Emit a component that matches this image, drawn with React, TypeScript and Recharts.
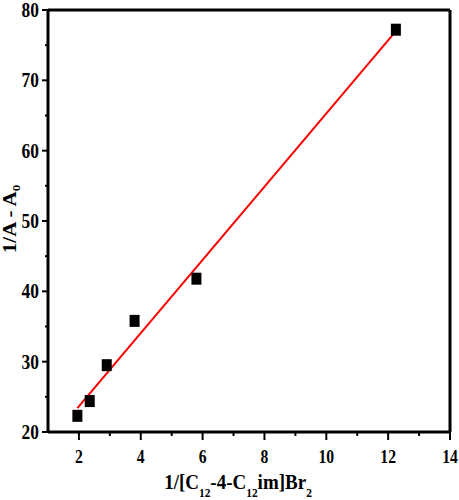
import { ComposedChart, XAxis, YAxis, Scatter, Line, ReferenceLine, Label } from "recharts";

// measured points: 1/[C12-4-C12im]Br2 vs 1/(A - A0)
const concInv: number[] = [1.95, 2.35, 2.9, 3.8, 5.8, 12.25];
const absInv: number[] = [22.3, 24.4, 29.5, 35.8, 41.8, 77.2];

// linear fit ends
const fitX: number[] = [1.95, 12.25];
const fitY: number[] = [23.4, 77.0];

const xTicks: number[] = [1, 2, 3, 4, 5, 6, 7, 8, 9, 10, 11, 12, 13, 14];
const yTicks: number[] = [20, 25, 30, 35, 40, 45, 50, 55, 60, 65, 70, 75, 80];

const points = concInv.map((x, i) => ({ x, y: absInv[i] }));
const fitData = fitX.map((x, i) => ({ x, y: fitY[i] }));

const FONT = '"Liberation Serif", "Times New Roman", serif';

const YTick = (props: any) => {
    const { x, y, payload } = props;
    const v = payload.value;
    const major = v % 10 === 0;
    return (
        <g>
            <line x1={x} x2={x - (major ? 6 : 3)} y1={y} y2={y} stroke="#000" strokeWidth={2} />
            {major && (
                <text
                    transform={`translate(${x - 9},${y}) scale(0.87,1)`}
                    textAnchor="end"
                    dy="0.35em"
                    fontFamily={FONT}
                    fontWeight="bold"
                    fontSize={20}
                    fill="#000"
                >
                    {v}
                </text>
            )}
        </g>
    );
};

const XTick = (props: any) => {
    const { x, y, payload } = props;
    const v = payload.value;
    const major = v % 2 === 0;
    if (v === 1) return <g />;
    return (
        <g>
            <line x1={x} x2={x} y1={y} y2={y + (major ? 8 : 4)} stroke="#000" strokeWidth={2} />
            {major && (
                <text
                    transform={`translate(${x},${y + 31}) scale(0.87,1)`}
                    textAnchor="middle"
                    fontFamily={FONT}
                    fontWeight="bold"
                    fontSize={18}
                    fill="#000"
                >
                    {v}
                </text>
            )}
        </g>
    );
};

const YLabel = () => (
    <text
        transform="translate(16,219) scale(0.85,1) rotate(-90)"
        textAnchor="middle"
        fontFamily={FONT}
        fontWeight="bold"
        fontSize={21}
        fill="#000"
    >
        1/A - A<tspan fontSize={13} dy={5}>0</tspan>
    </text>
);

const XLabel = () => (
    <text
        transform="translate(238,489) scale(0.95,1)"
        textAnchor="middle"
        fontFamily={FONT}
        fontWeight="bold"
        fontSize={20}
        fill="#000"
    >
        1/[C<tspan fontSize={12} dy={8}>12</tspan>
        <tspan dy={-8}>-4-C</tspan>
        <tspan fontSize={12} dy={8}>12</tspan>
        <tspan dy={-8}>im]Br</tspan>
        <tspan fontSize={12} dy={8}>2</tspan>
    </text>
);

export default function App() {
    return (
        <div style={{ position: "absolute", left: 0, top: 0, width: 459, height: 500, background: "#fff" }}>
            <ComposedChart width={459} height={500} margin={{ top: 10, right: 9, left: 0, bottom: 0 }}>
                <XAxis
                    type="number"
                    dataKey="x"
                    domain={[1, 14]}
                    ticks={xTicks}
                    tick={<XTick />}
                    tickLine={false}
                    tickSize={0}
                    tickMargin={0}
                    height={68}
                    axisLine={{ stroke: "#000", strokeWidth: 3 }}
                    allowDataOverflow
                >
                    <Label content={<XLabel />} />
                </XAxis>
                <YAxis
                    type="number"
                    dataKey="y"
                    domain={[20, 80]}
                    ticks={yTicks}
                    tick={<YTick />}
                    tickLine={false}
                    tickSize={0}
                    tickMargin={0}
                    width={48}
                    axisLine={{ stroke: "#000", strokeWidth: 3 }}
                    allowDataOverflow
                >
                    <Label content={<YLabel />} />
                </YAxis>
                <ReferenceLine y={80} stroke="#000" strokeWidth={3} />
                <ReferenceLine x={14} stroke="#000" strokeWidth={3} />
                <Scatter
                    data={points}
                    dataKey="y"
                    fill="#000"
                    isAnimationActive={false}
                    shape={(p: any) => <rect x={p.cx - 5} y={p.cy - 6} width={10} height={12} fill="#000" />}
                />
                <Line
                    data={fitData}
                    dataKey="y"
                    type="linear"
                    stroke="#ff0000"
                    strokeWidth={2}
                    dot={false}
                    activeDot={false}
                    isAnimationActive={false}
                />
            </ComposedChart>
        </div>
    );
}
